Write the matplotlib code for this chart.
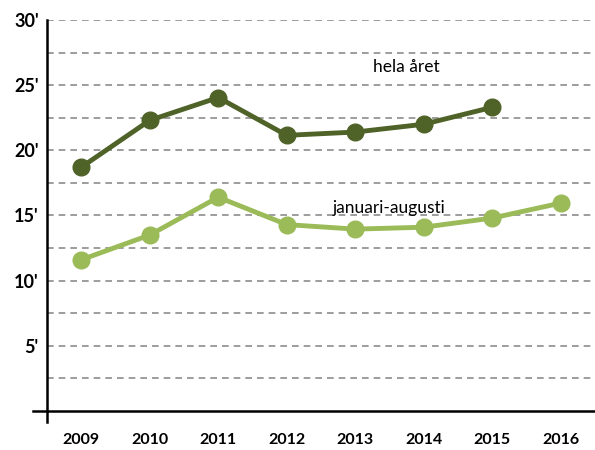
import matplotlib
matplotlib.use("Agg")
import matplotlib.pyplot as plt

years = ["2009", "2010", "2011", "2012", "2013", "2014", "2015", "2016"]
hela_aret = [18.7, 22.3, 24.05, 21.15, 21.4, 22.0, 23.3]
jan_aug = [11.6, 13.5, 16.4, 14.3, 13.95, 14.1, 14.8, 15.95]
yticks = [5, 10, 15, 20, 25, 30]
ytick_labels = ["5'", "10'", "15'", "20'", "25'", "30'"]

plt.rcParams['font.family'] = ['Lato', 'DejaVu Sans']

fig = plt.figure(figsize=(5.95, 4.5), dpi=100)
ax = fig.add_axes([47/595, 1-422/450, 1-47/595, (422-20)/450])

dark = "#4F6228"
light = "#9BBB59"

for v in [2.5*i for i in range(1, 13)]:
    ax.axhline(v, color="#8c8c8c", lw=1.2, ls=(0, (4, 3)), zorder=1)

x1 = list(range(len(hela_aret)))
x2 = list(range(len(jan_aug)))
ax.plot(x1, hela_aret, color=dark, lw=3.5, marker="o", ms=12, zorder=3)
ax.plot(x2, jan_aug, color=light, lw=3.5, marker="o", ms=12, zorder=3)

ax.axhline(0, xmin=-14/548, xmax=1, color="black", lw=1.8, clip_on=False, zorder=4)

ax.set_xlim(-0.5, 7.5)
ax.set_ylim(-0.85, 30)
ax.set_xticks(range(len(years)))
ax.set_xticklabels(years, fontsize=11.5, fontweight="bold")
ax.set_yticks(yticks)
ax.set_yticklabels(ytick_labels, fontsize=13, fontweight="bold")
ax.tick_params(axis="both", length=0)
ax.tick_params(axis="x", pad=8)
ax.tick_params(axis="y", pad=6)

for s in ["top", "right", "bottom"]:
    ax.spines[s].set_visible(False)
ax.spines["left"].set_linewidth(1.8)
ax.spines["left"].set_zorder(4)

ax.text(4.74, 26.36, "hela året", fontsize=12.5, ha="center", va="center")
ax.text(4.5, 15.6, "januari-augusti", fontsize=12.5, ha="center", va="center")

fig.savefig("out.png", dpi=100)
